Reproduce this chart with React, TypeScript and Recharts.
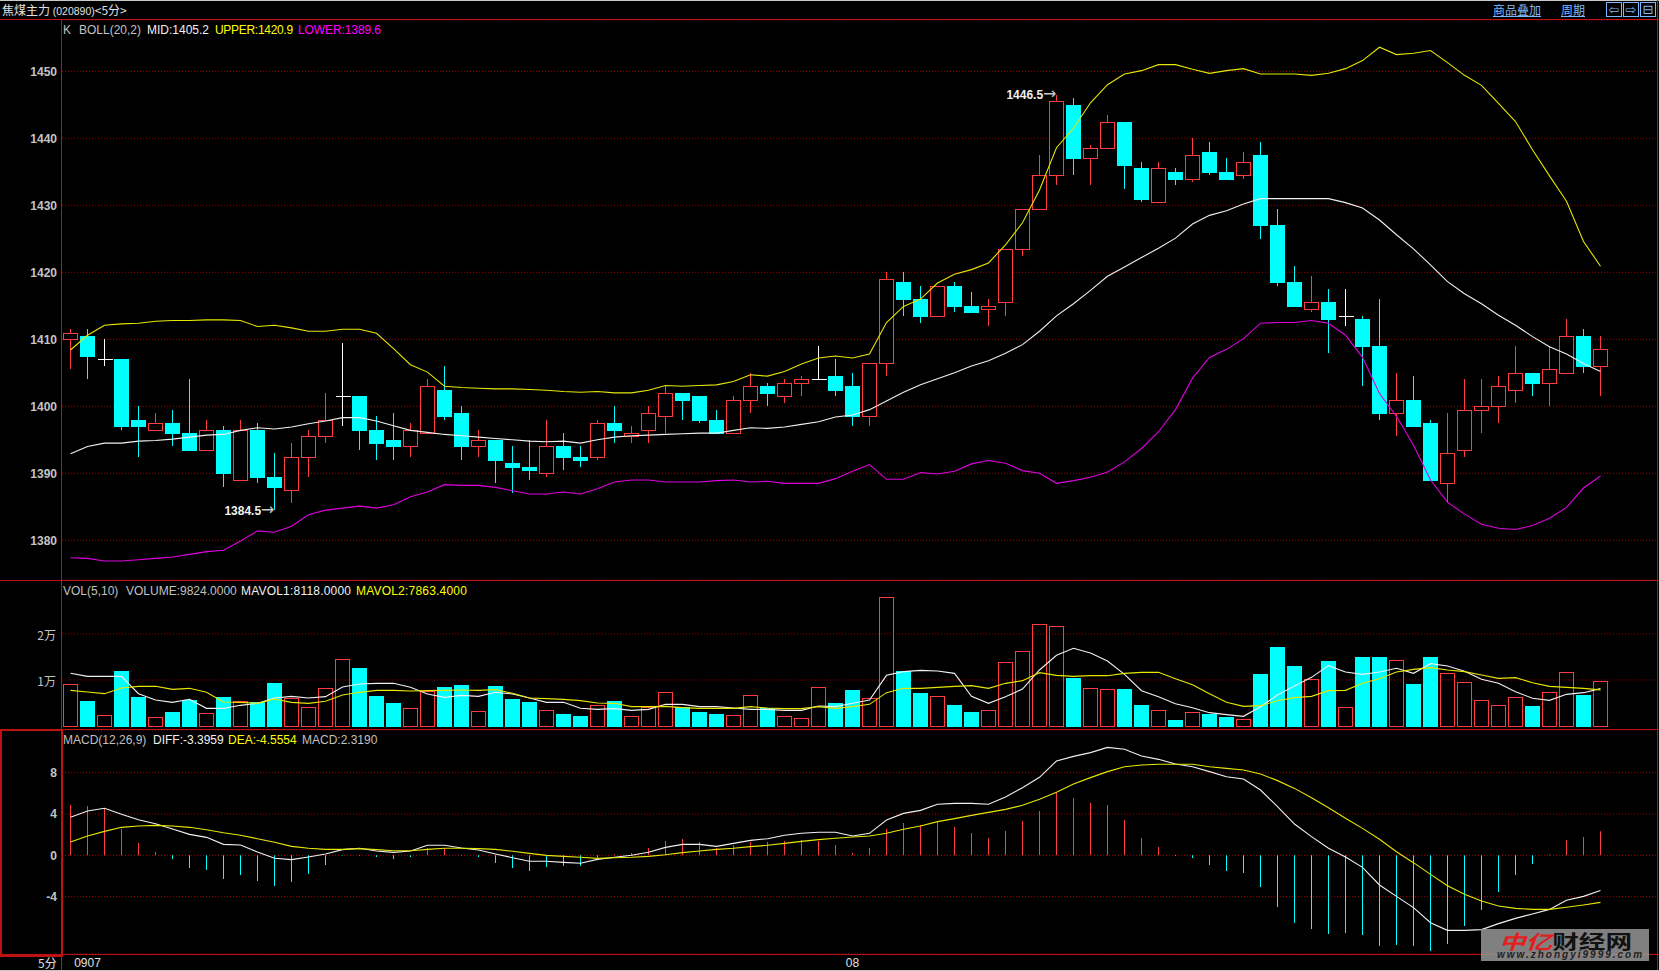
import React from 'react';
import { ComposedChart, Bar, Line, XAxis, YAxis, CartesianGrid, Cell, ReferenceDot } from 'recharts';

const opens = [
  1410, 1410.5, 1407, 1407, 1398, 1396.5, 1397.5, 1396, 1393.5, 1396.5,
  1389, 1396.5, 1389.5, 1387.5, 1392.5, 1395.5, 1401.5, 1401.5, 1396.5, 1395,
  1394, 1396, 1402.5, 1399, 1394, 1395, 1391.5, 1391, 1390, 1394,
  1392.5, 1392.5, 1397.5, 1395.5, 1396.5, 1398.5, 1402, 1401.5, 1398, 1396,
  1401, 1403, 1401.5, 1403.5, 1404, 1404.5, 1403, 1398.5, 1406.5, 1418.5,
  1416, 1413.5, 1418, 1415, 1414.5, 1415.5, 1423.5, 1429.5, 1434.5, 1445,
  1437, 1438.5, 1442.5, 1435.5, 1430.5, 1435, 1434, 1438, 1435, 1434.5,
  1437.5, 1427, 1418.5, 1414.5, 1415.5, 1413.5, 1413, 1409, 1399, 1401,
  1397.5, 1388.5, 1393.5, 1399.5, 1400, 1402.5, 1405, 1403.5, 1405, 1410.5,
  1406,
];
const closes = [
  1411, 1407.5, 1407, 1397, 1397, 1397.5, 1396, 1393.5, 1396.5, 1390,
  1396.5, 1389.5, 1388, 1392.5, 1395.5, 1398, 1401.5, 1396.5, 1394.5, 1394,
  1396.5, 1403, 1398.5, 1394, 1395, 1392, 1391, 1390.5, 1394, 1392.5,
  1392, 1397.5, 1396.5, 1396, 1399, 1402, 1401, 1398, 1396, 1401,
  1403, 1402, 1403.5, 1404, 1404, 1402.5, 1398.5, 1406.5, 1419, 1416,
  1413.5, 1418, 1415, 1414, 1415, 1423.5, 1429.5, 1434.5, 1445.5, 1437,
  1438.5, 1442.5, 1436, 1431, 1435.5, 1434, 1437.5, 1435, 1434, 1436.5,
  1427, 1418.5, 1415, 1415.5, 1413, 1413.5, 1409, 1399, 1401, 1397,
  1389, 1393, 1399.5, 1400, 1403, 1405, 1403.5, 1405.5, 1410.5, 1406,
  1408.5,
];
const highs = [
  1411.5, 1411.5, 1410, 1407, 1400, 1399, 1399.5, 1404, 1398, 1397,
  1398, 1397.5, 1393, 1394.5, 1396.5, 1402, 1409.5, 1401.5, 1398.5, 1399,
  1397.5, 1404, 1406, 1400, 1396.5, 1395, 1394, 1395, 1398, 1396,
  1394, 1398, 1400, 1397, 1400, 1403, 1402, 1401.5, 1399.5, 1401.5,
  1405, 1403.5, 1404, 1404.5, 1409, 1407, 1405, 1406.5, 1420, 1420,
  1418, 1418, 1418.5, 1417, 1416, 1423.5, 1429.5, 1437.5, 1446.5, 1446,
  1439, 1443.5, 1442.5, 1436.5, 1436.5, 1435.5, 1440, 1439.5, 1437, 1438,
  1439.5, 1429.5, 1421, 1419.5, 1417.5, 1417.5, 1413.5, 1416, 1405, 1404.5,
  1398, 1399, 1404, 1404, 1404.5, 1409, 1405, 1409, 1413, 1411.5,
  1410.5,
];
const lows = [
  1405.5, 1404, 1406, 1396.5, 1392.5, 1396.5, 1394, 1393.5, 1393.5, 1388,
  1389, 1388.5, 1384.5, 1385.5, 1389.5, 1394.5, 1397, 1393.5, 1392, 1392,
  1392.5, 1396, 1398, 1392, 1392.5, 1388.5, 1387, 1389, 1389.5, 1390.5,
  1391, 1392, 1394.5, 1394.5, 1394.5, 1396, 1398, 1397.5, 1396, 1396,
  1399, 1400, 1400.5, 1401.5, 1404, 1401.5, 1397, 1397, 1404.5, 1413.5,
  1412.5, 1413.5, 1414, 1414, 1412, 1413.5, 1422.5, 1429.5, 1433, 1434.5,
  1433, 1438.5, 1432.5, 1430.5, 1430.5, 1433, 1433.5, 1434.5, 1434, 1434,
  1425, 1418, 1415, 1414, 1408, 1412, 1403, 1398, 1395.5, 1397,
  1389, 1385.5, 1392.5, 1396, 1397.5, 1400.5, 1401.5, 1400, 1405, 1405,
  1401.5,
];
const mids = [
  1392.9, 1394, 1394.5, 1394.5, 1394.8, 1394.9, 1395.1, 1395.4, 1395.7, 1395.8,
  1396.4, 1396.8, 1396.6, 1396.9, 1397.4, 1397.8, 1398.3, 1398.3, 1397.8, 1397.1,
  1396.4, 1396.1, 1395.8, 1395.6, 1395.4, 1395.2, 1395, 1394.8, 1394.7, 1394.8,
  1394.5, 1395, 1395.4, 1395.6, 1395.7, 1395.8, 1395.9, 1396, 1396, 1396.4,
  1396.8, 1396.7, 1396.9, 1397.3, 1397.7, 1398.4, 1398.7, 1399.5, 1400.8, 1402.1,
  1403.2, 1404.1, 1405, 1406, 1406.8, 1407.9, 1409.2, 1411.2, 1413.5, 1415.3,
  1417.3, 1419.4, 1420.8, 1422.2, 1423.6, 1425.1, 1427.2, 1428.5, 1429.2, 1430.2,
  1431, 1431, 1431, 1431, 1431, 1430.4, 1429.6, 1427.8, 1425.6, 1423.5,
  1421.1, 1418.6, 1416.8, 1415.3, 1413.6, 1412.1, 1410.4, 1408.9, 1407.8, 1406.4,
  1405.2,
];
const uppers = [
  1408.4, 1410.6, 1412.1, 1412.3, 1412.4, 1412.7, 1412.8, 1412.8, 1412.9, 1412.9,
  1412.8, 1411.9, 1412.1, 1411.7, 1411.2, 1411.2, 1411.5, 1411.5, 1410.9, 1408.6,
  1406.2, 1405.1, 1403, 1402.8, 1402.7, 1402.6, 1402.6, 1402.5, 1402.4, 1402.2,
  1402.1, 1402.2, 1402, 1402, 1402.4, 1403.1, 1403, 1403.1, 1403.2, 1403.7,
  1404.7, 1404.5, 1405.2, 1406.3, 1407.2, 1407.5, 1407.2, 1407.8, 1412.5, 1414.9,
  1416, 1418.4, 1419.7, 1420.4, 1421.4, 1424.1, 1427.4, 1432.3, 1438.6, 1441.5,
  1445.3, 1448, 1449.6, 1450.1, 1451, 1451, 1450.3, 1449.7, 1450.1, 1450.4,
  1449.6, 1449.6, 1449.6, 1449.4, 1449.7, 1450.4, 1451.6, 1453.6, 1452.5, 1452.7,
  1453.1, 1451.3, 1449.4, 1447.9, 1445.2, 1442.5, 1438.3, 1434.4, 1430.6, 1424.6,
  1420.9,
];
const lowers = [
  1377.4, 1377.3, 1376.9, 1376.9, 1377.1, 1377.3, 1377.5, 1377.9, 1378.3, 1378.5,
  1379.9, 1381.4, 1381.2, 1382.1, 1383.8, 1384.5, 1384.8, 1385.1, 1384.8, 1385.3,
  1386.5, 1387.2, 1388.3, 1388.2, 1388.2, 1387.9, 1387.4, 1386.9, 1386.9, 1387.2,
  1386.9, 1387.7, 1388.7, 1389, 1389, 1388.7, 1388.7, 1388.7, 1388.9, 1389,
  1388.7, 1388.8, 1388.5, 1388.5, 1388.5, 1389.2, 1390.3, 1391.3, 1389.1, 1389.1,
  1390.1, 1389.9, 1390.3, 1391.4, 1391.9, 1391.5, 1390.4, 1390, 1388.5, 1388.9,
  1389.4, 1390.2, 1391.7, 1393.7, 1396.2, 1399.5, 1404.2, 1407.3, 1408.5, 1410.1,
  1412.4, 1412.5, 1412.5, 1412.8, 1412.4, 1410.6, 1407.3, 1401.9, 1398.5, 1394.2,
  1389, 1385.7, 1383.9, 1382.4, 1381.8, 1381.6, 1382.2, 1383.3, 1384.9, 1387.8,
  1389.6,
];
const volumes = [
  9058, 5435, 2319, 11956, 6304, 1884, 3043, 5652, 2754, 6304,
  5362, 5145, 9348, 6087, 4058, 8188, 14493, 12609, 6522, 5000,
  3841, 7609, 8478, 8913, 3188, 8696, 5870, 5217, 3406, 2609,
  2174, 4493, 5435, 2101, 4058, 7319, 4130, 3043, 2609, 2319,
  6667, 3913, 2101, 1667, 8406, 5000, 7826, 6014, 27971, 11956,
  7174, 6449, 4565, 3043, 3406, 13840, 16231, 22101, 21666, 10434,
  8188, 7971, 8043, 4565, 3406, 1304, 2971, 2609, 1956, 1449,
  11304, 17173, 13043, 10144, 14130, 4058, 15000, 15000, 14275, 9130,
  15000, 11449, 9492, 5580, 4493, 6232, 4348, 7319, 11666, 6739,
  9824,
];
const mavol1 = [
  11449, 10797, 10797, 10797, 7029, 5652, 5145, 5797, 3841, 3841,
  4493, 4927, 6087, 6449, 6087, 6377, 8478, 9130, 9275, 9275,
  8406, 6956, 6232, 6666, 6449, 7319, 6956, 6087, 5145, 5145,
  3841, 3623, 3768, 3406, 3623, 4710, 4710, 4203, 4203, 3913,
  3623, 3623, 3406, 3406, 4348, 4203, 4927, 5652, 11014, 11811,
  12100, 11956, 11449, 6449, 4927, 6377, 8043, 12173, 15362, 16883,
  15869, 14130, 11231, 7681, 6377, 4855, 3985, 2898, 2464, 2101,
  4203, 6739, 8695, 10579, 13115, 11739, 11231, 11739, 12536, 11449,
  13550, 13043, 11884, 10144, 9275, 7464, 6014, 5580, 6884, 7246,
  8118,
];
const mavol2 = [
  7753, 7391, 7029, 8260, 8623, 8623, 7971, 8188, 7319, 5217,
  5145, 4927, 5870, 5145, 4927, 5362, 6739, 7319, 7753, 7753,
  7609, 7681, 7753, 7826, 7753, 7899, 7101, 6087, 5942, 5797,
  5507, 5000, 4927, 4203, 4203, 4275, 3985, 3841, 3841, 3841,
  4203, 3913, 3768, 3768, 4203, 3841, 4203, 4710, 7246, 8188,
  8188, 8405, 8623, 8768, 8188, 9275, 9855, 11594, 11014, 10797,
  10941, 10941, 11449, 11666, 11666, 10289, 8985, 7029, 5145, 4275,
  4420, 5507, 6159, 6449, 7681, 7753, 9275, 10289, 11739, 12318,
  12681, 12173, 11811, 11086, 10362, 10507, 9420, 8623, 8405, 8188,
  7863,
];
const diffs = [
  3.68, 4.29, 4.55, 3.97, 3.45, 3.06, 2.55, 2.03, 1.74, 1.06,
  1, 0.32, -0.29, -0.42, -0.16, 0.13, 0.55, 0.68, 0.42, 0.29,
  0.42, 0.97, 0.97, 0.71, 0.52, 0.13, -0.23, -0.58, -0.58, -0.68,
  -0.77, -0.39, -0.19, 0, 0.29, 0.77, 1.06, 1.06, 0.87, 1.16,
  1.45, 1.61, 1.94, 2.13, 2.23, 2.23, 1.87, 2.13, 3.42, 4.06,
  4.35, 4.94, 5.03, 5.03, 4.94, 5.65, 6.55, 7.55, 9.13, 9.58,
  9.94, 10.45, 10.26, 9.61, 9.29, 8.84, 8.58, 8.1, 7.61, 7.39,
  6.32, 4.71, 3.03, 1.81, 0.68, -0.16, -1.16, -2.87, -3.97, -5.06,
  -6.52, -7.26, -7.26, -7.19, -6.61, -6.1, -5.68, -5.23, -4.35, -3.97,
  -3.3959,
];
const deas = [
  1.29, 1.87, 2.32, 2.71, 2.84, 2.9, 2.84, 2.71, 2.48, 2.19,
  1.94, 1.61, 1.26, 0.87, 0.68, 0.58, 0.58, 0.65, 0.55, 0.45,
  0.45, 0.58, 0.68, 0.68, 0.65, 0.58, 0.39, 0.19, 0, -0.1,
  -0.19, -0.29, -0.23, -0.19, -0.1, 0.06, 0.26, 0.42, 0.58, 0.68,
  0.84, 0.97, 1.16, 1.35, 1.52, 1.65, 1.77, 1.87, 2.13, 2.52,
  2.84, 3.26, 3.55, 3.87, 4.16, 4.45, 4.84, 5.42, 6.1, 6.9,
  7.52, 8.1, 8.58, 8.74, 8.81, 8.81, 8.81, 8.58, 8.42, 8.26,
  7.87, 7.23, 6.48, 5.58, 4.61, 3.58, 2.61, 1.55, 0.35, -0.71,
  -1.84, -2.94, -3.77, -4.42, -4.9, -5.13, -5.23, -5.23, -5.03, -4.81,
  -4.5554,
];
const macds = [
  4.87, 4.77, 4.55, 2.55, 1.19, 0.32, -0.35, -1.23, -1.42, -2.29,
  -1.9, -2.48, -2.97, -2.58, -1.81, -0.94, -0.03, -0.03, -0.16, -0.35,
  -0.16, 0.71, 0.65, -0.03, -0.16, -0.74, -1.23, -1.52, -1.13, -1.03,
  -1.03, -0.2, 0.1, 0.23, 0.71, 1.39, 1.58, 1.29, 0.71, 1,
  1.29, 1.29, 1.39, 1.48, 1.39, 1, 0.23, 0.71, 2.55, 3.13,
  2.94, 3.32, 2.74, 2.16, 1.68, 2.35, 3.32, 4.29, 6.13, 5.55,
  5.06, 4.87, 3.42, 1.68, 0.81, -0.06, -0.26, -0.94, -1.52, -1.71,
  -3.06, -5, -6.55, -7.13, -7.61, -7.52, -7.71, -8.77, -8.68, -8.77,
  -9.26, -8.58, -6.84, -5.29, -3.55, -1.9, -0.84, 0.1, 1.48, 1.77,
  2.319,
];

const priceTicks = [1380, 1390, 1400, 1410, 1420, 1430, 1440, 1450];
const volumeTicks = [10000, 20000];
const macdTicks = [-4, 0, 4, 8];
const dateTickIndexes = [1, 46];
const dateTickLabels = ['0907', '08'];
const priceMarks = [
  { index: 12, value: 1384.5 },
  { index: 58, value: 1446.5 },
];

const RED = '#ff3b3b';
const CYAN = '#00ffff';
const FRAME = '#c01010';
const GRID = '#a00000';
const AXIS_TEXT = '#c4c4c4';
const FONT = '"Liberation Sans", Arial, sans-serif';
const CJK = '"Noto Sans CJK SC", "Liberation Sans", sans-serif';

const rows = opens.map((open, i) => ({
  idx: i,
  open,
  close: closes[i],
  high: highs[i],
  low: lows[i],
  range: [lows[i], highs[i]],
  mid: mids[i],
  upper: uppers[i],
  lower: lowers[i],
  volume: volumes[i],
  mavol1: mavol1[i],
  mavol2: mavol2[i],
  diff: diffs[i],
  dea: deas[i],
  macd: macds[i],
}));

// body and wick are worked out from the rect the library gives for low..high
function Candle(props: any) {
  const { x, y, width, height, payload } = props;
  const unit = height / (payload.high - payload.low);
  const cx = Math.round(x + width / 2 - 0.5) + 0.5;
  const openY = y + (payload.high - payload.open) * unit;
  const closeY = y + (payload.high - payload.close) * unit;
  const top = Math.round(Math.min(openY, closeY)) + 0.5;
  const bottom = Math.round(Math.max(openY, closeY)) + 0.5;
  const up = payload.close > payload.open;
  const flat = payload.close === payload.open;
  const color = flat ? '#ffffff' : up ? RED : CYAN;
  return (
    <g shapeRendering="crispEdges">
      <line x1={cx} x2={cx} y1={y} y2={y + height} stroke={color} strokeWidth={1} />
      {flat ? (
        <line x1={cx - 7} x2={cx + 8} y1={top} y2={top} stroke={color} strokeWidth={1} />
      ) : up ? (
        <rect x={cx - 7} y={top} width={14} height={bottom - top} fill="#000" stroke={color} strokeWidth={1} />
      ) : (
        <rect x={cx - 7.5} y={top - 0.5} width={15} height={bottom - top + 1} fill={color} />
      )}
    </g>
  );
}

function VolumeBar(props: any) {
  const { x, y, width, height, payload } = props;
  const cx = Math.round(x + width / 2 - 0.5) + 0.5;
  const top = Math.round(y) + 0.5;
  const h = Math.round(height);
  return payload.close >= payload.open ? (
    <rect x={cx - 7} y={top} width={14} height={h} fill="none" stroke={RED} strokeWidth={1} shapeRendering="crispEdges" />
  ) : (
    <rect x={cx - 7.5} y={top - 0.5} width={15} height={h + 1} fill={CYAN} shapeRendering="crispEdges" />
  );
}

function MarkLabel({ viewBox, text }: any) {
  return (
    <text x={viewBox.x} y={viewBox.y} dy={4.5} textAnchor="end" fill="#f0f0f0" fontSize={12} fontWeight={700} fontFamily={FONT}>
      {text}
      <tspan fontFamily='"DejaVu Sans"' fontWeight={400} fontSize={16} fill="#c8c8c8">→</tspan>
    </text>
  );
}

const axisTick = { fill: AXIS_TEXT, fontSize: 12, fontWeight: 700, fontFamily: FONT };

function Label({ left, top, color, children, spacing = 0 }: any) {
  return (
    <div style={{ position: 'absolute', left, top, color, fontFamily: FONT, fontSize: 12, lineHeight: '14px', whiteSpace: 'pre', letterSpacing: spacing }}>
      {children}
    </div>
  );
}

function Rule({ left, top, width, height, color = FRAME }: any) {
  return <div style={{ position: 'absolute', left, top, width, height, background: color }} />;
}

function IconBox({ left, glyph }: { left: number; glyph: string }) {
  return (
    <div style={{ position: 'absolute', left, top: 2, width: 14, height: 13, border: '1px solid #7db8ff', color: '#7db8ff', fontFamily: '"DejaVu Sans"', fontSize: 13, lineHeight: '13px', textAlign: 'center' }}>
      {glyph}
    </div>
  );
}

export default function App() {
  return (
    <div style={{ position: 'absolute', left: 0, top: 0, width: 1659, height: 971, background: '#000', overflow: 'hidden' }}>
      <Rule left={0} top={0} width={1659} height={1} color="#c8c8c8" />
      <Rule left={0} top={970} width={1659} height={1} color="#c8c8c8" />

      <div style={{ position: 'absolute', left: 2, top: 2, color: '#e0e0e0', fontFamily: CJK, fontSize: 12, lineHeight: '16px', whiteSpace: 'pre' }}>
        焦煤主力 <span style={{ fontFamily: FONT, fontSize: 10.5 }}>(020890)</span>&lt;5分&gt;
      </div>
      <div style={{ position: 'absolute', left: 1493, top: 2, color: '#7db8ff', fontFamily: CJK, fontSize: 12, lineHeight: '16px', textDecoration: 'underline' }}>商品叠加</div>
      <div style={{ position: 'absolute', left: 1561, top: 2, color: '#7db8ff', fontFamily: CJK, fontSize: 12, lineHeight: '16px', textDecoration: 'underline' }}>周期</div>
      <IconBox left={1606} glyph="⇦" />
      <IconBox left={1623} glyph="⇨" />
      <IconBox left={1640} glyph="⊟" />

      <div style={{ position: 'absolute', left: 0, top: 20 }}>
        <ComposedChart width={1657} height={560} data={rows} margin={{ top: 0, right: 0, bottom: 0, left: 0 }}>
          <CartesianGrid horizontal vertical={false} stroke={GRID} strokeDasharray="1 2" />
          <XAxis dataKey="idx" hide padding={{ left: 0, right: 48 }} />
          <YAxis width={62} domain={[1374.07, 1457.66]} ticks={priceTicks} allowDataOverflow axisLine={false} tickLine={false} tickSize={0} tickMargin={5} tick={axisTick} />
          <Bar dataKey="range" barSize={15} shape={<Candle />} isAnimationActive={false} />
          <Line dataKey="mid" type="linear" stroke="#f0f0f0" strokeWidth={1.1} dot={false} isAnimationActive={false} />
          <Line dataKey="upper" type="linear" stroke="#e6e600" strokeWidth={1.1} dot={false} isAnimationActive={false} />
          <Line dataKey="lower" type="linear" stroke="#e000e0" strokeWidth={1.1} dot={false} isAnimationActive={false} />
          {priceMarks.map((m) => (
            <ReferenceDot
              key={m.index}
              x={m.index}
              y={m.value}
              r={0}
              fill="none"
              stroke="none"
              label={<MarkLabel text={m.value.toFixed(1)} />}
            />
          ))}
        </ComposedChart>
      </div>

      <div style={{ position: 'absolute', left: 0, top: 580 }}>
        <ComposedChart width={1657} height={150} data={rows} margin={{ top: 0, right: 0, bottom: 0, left: 0 }}>
          <CartesianGrid horizontal vertical={false} stroke={GRID} strokeDasharray="1 2" />
          <XAxis dataKey="idx" hide padding={{ left: 0, right: 48 }} />
          <YAxis
            width={62}
            domain={[-870, 31739]}
            ticks={volumeTicks}
            allowDataOverflow
            axisLine={false}
            tickLine={false}
            tickSize={0}
            tickMargin={6}
            tick={{ ...axisTick, fontFamily: CJK, fontWeight: 400, dy: 2 }}
            tickFormatter={(v: number) => `${v / 10000}万`}
          />
          <Bar dataKey="volume" barSize={15} shape={<VolumeBar />} isAnimationActive={false} />
          <Line dataKey="mavol1" type="linear" stroke="#f0f0f0" strokeWidth={1.1} dot={false} isAnimationActive={false} />
          <Line dataKey="mavol2" type="linear" stroke="#e6e600" strokeWidth={1.1} dot={false} isAnimationActive={false} />
        </ComposedChart>
      </div>

      <div style={{ position: 'absolute', left: 0, top: 730 }}>
        <ComposedChart width={1657} height={241} data={rows} margin={{ top: 0, right: 0, bottom: 0, left: 0 }}>
          <CartesianGrid horizontal vertical={false} stroke={GRID} strokeDasharray="1 2" />
          <XAxis
            dataKey="idx"
            height={17}
            padding={{ left: 0, right: 48 }}
            ticks={dateTickIndexes}
            interval={0}
            axisLine={false}
            tickLine={false}
            tickSize={0}
            tickMargin={4}
            tick={{ fill: '#e0e0e0', fontSize: 12, fontFamily: FONT }}
            tickFormatter={(v: number) => dateTickLabels[dateTickIndexes.indexOf(v)]}
          />
          <YAxis width={62} domain={[-9.55, 12.13]} ticks={macdTicks} allowDataOverflow axisLine={false} tickLine={false} tickSize={0} tickMargin={5} tick={axisTick} />
          <Bar dataKey="macd" barSize={1} isAnimationActive={false}>
            {macds.map((v, i) => (
              <Cell key={i} fill={v >= 0 ? RED : CYAN} />
            ))}
          </Bar>
          <Line dataKey="diff" type="linear" stroke="#f0f0f0" strokeWidth={1.1} dot={false} isAnimationActive={false} />
          <Line dataKey="dea" type="linear" stroke="#e6e600" strokeWidth={1.1} dot={false} isAnimationActive={false} />
        </ComposedChart>
      </div>

      <Rule left={0} top={19} width={1659} height={1} />
      <Rule left={0} top={580} width={1659} height={1} />
      <Rule left={0} top={729} width={1659} height={1} />
      <Rule left={0} top={954} width={1659} height={1} />
      <Rule left={61} top={20} width={1} height={950} />
      <Rule left={1657} top={0} width={1} height={970} />
      <div style={{ position: 'absolute', left: 0, top: 729, width: 59, height: 224, border: '2px solid #c01010' }} />

      <Label left={63} top={23} color="#c0c0c0">K</Label>
      <Label left={79} top={23} color="#c0c0c0">BOLL(20,2)</Label>
      <Label left={147} top={23} color="#f0f0f0">MID:1405.2</Label>
      <Label left={215} top={23} color="#ffff00" spacing={-0.3}>UPPER:1420.9</Label>
      <Label left={298} top={23} color="#ff00ff" spacing={-0.1}>LOWER:1389.6</Label>

      <Label left={63} top={584} color="#c0c0c0">VOL(5,10)</Label>
      <Label left={126} top={584} color="#c0c0c0">VOLUME:9824.0000</Label>
      <Label left={241} top={584} color="#f0f0f0" spacing={0.2}>MAVOL1:8118.0000</Label>
      <Label left={356} top={584} color="#ffff00" spacing={0.2}>MAVOL2:7863.4000</Label>

      <Label left={63} top={733} color="#c0c0c0">MACD(12,26,9)</Label>
      <Label left={153} top={733} color="#f0f0f0">DIFF:-3.3959</Label>
      <Label left={228} top={733} color="#ffff00">DEA:-4.5554</Label>
      <Label left={302} top={733} color="#c0c0c0">MACD:2.3190</Label>

      <div style={{ position: 'absolute', left: 38, top: 955, color: '#e0e0e0', fontFamily: CJK, fontSize: 12, lineHeight: '15px' }}>5分</div>

      <div style={{ position: 'absolute', left: 1481, top: 929, width: 168, height: 32, background: 'rgba(150,150,150,0.85)' }}>
        <div style={{ position: 'absolute', left: 18, top: 2, fontFamily: CJK, fontSize: 19, fontWeight: 700, lineHeight: '19px', whiteSpace: 'pre', transform: 'scaleX(1.4)', transformOrigin: 'left center' }}>
          <span style={{ color: '#e01f1f', fontStyle: 'italic' }}>中亿</span>
          <span style={{ color: '#111' }}>财经网</span>
        </div>
        <div style={{ position: 'absolute', left: 16, top: 21, color: '#222', fontFamily: FONT, fontSize: 10, fontStyle: 'italic', fontWeight: 700, lineHeight: '10px', letterSpacing: 2, whiteSpace: 'pre' }}>
          www.zhongyi9999.com
        </div>
      </div>
    </div>
  );
}
